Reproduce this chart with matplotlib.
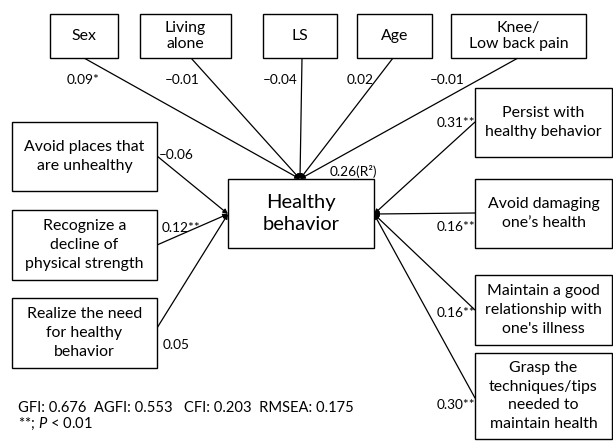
import matplotlib
matplotlib.use("Agg")
import matplotlib.pyplot as plt
from matplotlib.patches import Rectangle, FancyArrowPatch

plt.rcParams['font.family'] = ['Lato', 'DejaVu Sans']
plt.rcParams['mathtext.fontset'] = 'custom'
plt.rcParams['mathtext.rm'] = 'Lato'
plt.rcParams['mathtext.it'] = 'Lato:italic'

# ---- data ----
top_names = ["Sex", "Living\nalone", "LS", "Age", "Knee/\nLow back pain"]
top_coefs = ["0.09*", "\u20130.01", "\u20130.04", "0.02", "\u20130.01"]
left_names = ["Avoid places that\nare unhealthy", "Recognize a\ndecline of\nphysical strength",
              "Realize the need\nfor healthy\nbehavior"]
left_coefs = ["\u20130.06", "0.12**", "0.05"]
right_names = ["Persist with\nhealthy behavior", "Avoid damaging\none\u2019s health",
               "Maintain a good\nrelationship with\none's illness",
               "Grasp the\ntechniques/tips\nneeded to\nmaintain health"]
right_coefs = ["0.31**", "0.16**", "0.16**", "0.30**"]
outcome_name = "Healthy\nbehavior"
r2_label = "0.26(R\u00b2)"
fit_text = "GFI: 0.676  AGFI: 0.553   CFI: 0.203  RMSEA: 0.175"
sig_text = "**; $\\mathit{P}$ < 0.01"

# ---- layout (pixel coordinates) ----
W, H = 613, 442
top_boxes = [(50, 14, 118, 58), (140, 14, 231, 58), (263, 14, 337, 58),
             (357, 14, 432, 58), (451, 14, 586, 58)]
top_src = [(84, 58), (191, 58), (302, 58), (393, 58), (518, 58)]
top_lbl = [(67, 80), (165, 80), (263, 80), (347, 80), (430, 80)]
left_boxes = [(12, 122, 157, 191), (12, 210, 157, 280), (12, 298, 157, 368)]
left_src = [(157, 156), (157, 245), (157, 328)]
left_lbl = [(159, 155), (162, 228), (163, 345)]
right_boxes = [(475, 88, 612, 157), (475, 179, 612, 248), (475, 275, 612, 345),
               (475, 353, 612, 439)]
right_src = [(475, 122), (475, 213), (475, 310), (475, 398)]
right_lbl = [(475, 123), (475, 227), (475, 313), (475, 405)]
out_box = (228, 179, 374, 248)
top_tgt = (300, 179)
left_tgt = (228, 214)
right_tgt = (374, 214)

fig = plt.figure(figsize=(W / 100, H / 100), dpi=100)
ax = fig.add_axes([0, 0, 1, 1])
ax.set_xlim(0, W)
ax.set_ylim(H, 0)
ax.axis('off')

box_fs = 11.4
lbl_fs = 9.8


def draw_box(b, text, fs=box_fs, ls=1.2):
    x0, y0, x1, y1 = b
    ax.add_patch(Rectangle((x0, y0), x1 - x0, y1 - y0, fill=True, fc='white',
                           ec='black', lw=1.0, zorder=3))
    ax.text((x0 + x1) / 2, (y0 + y1) / 2, text, ha='center', va='center',
            fontsize=fs, linespacing=ls, zorder=4)


def arrow(src, tgt):
    ax.add_patch(FancyArrowPatch(src, tgt, arrowstyle='-|>', mutation_scale=7,
                                 lw=0.9, color='black', shrinkA=0, shrinkB=0,
                                 zorder=2))


for b, n, s, l, c in zip(top_boxes, top_names, top_src, top_lbl, top_coefs):
    draw_box(b, n, ls=1.25)
    arrow(s, top_tgt)
    ax.text(l[0], l[1], c, ha='left', va='center', fontsize=lbl_fs)

for b, n, s, l, c in zip(left_boxes, left_names, left_src, left_lbl, left_coefs):
    draw_box(b, n, ls=1.45)
    arrow(s, left_tgt)
    ax.text(l[0], l[1], c, ha='left', va='center', fontsize=lbl_fs)

for b, n, s, l, c in zip(right_boxes, right_names, right_src, right_lbl, right_coefs):
    draw_box(b, n, ls=1.45 if n.count("\n") < 3 else 1.4)
    arrow(s, right_tgt)
    ax.text(l[0], l[1], c, ha='right', va='center', fontsize=lbl_fs, zorder=1)

draw_box(out_box, outcome_name, fs=14.5, ls=1.3)
ax.text(330, 172, r2_label, ha='left', va='center', fontsize=lbl_fs)

ax.text(18, 408, fit_text, ha='left', va='center', fontsize=10.6)
ax.text(18, 424, sig_text, ha='left', va='center', fontsize=10.6)

fig.savefig("out.png", dpi=100)
